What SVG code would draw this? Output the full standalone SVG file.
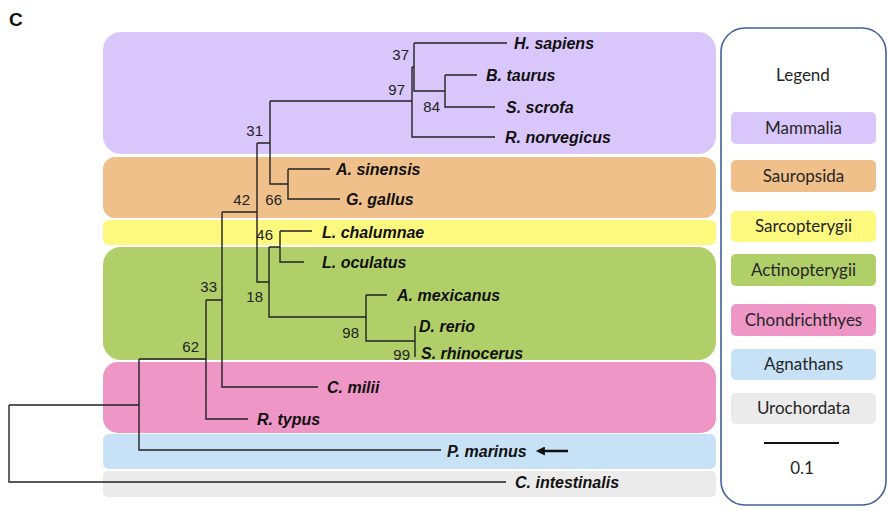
<svg xmlns="http://www.w3.org/2000/svg" width="889" height="511" viewBox="0 0 889 511">
<style>
.tip{font-family:"Liberation Sans",Arial,sans-serif;font-weight:bold;font-style:italic;font-size:16px;fill:#111}
.bs{font-family:"Liberation Sans",Arial,sans-serif;font-size:15px;fill:#222;text-anchor:end}
.lg{font-family:Lato,"Liberation Sans",sans-serif;font-size:17px;fill:#262626;text-anchor:middle}
.br{fill:none;stroke:#222;stroke-width:1.4}
</style>
<defs>
<marker id="ah" viewBox="0 0 10 10" refX="1" refY="5" markerWidth="4" markerHeight="3.6" orient="auto-start-reverse">
<path d="M0,0 L10,5 L0,10 z" fill="#111"/>
</marker>
</defs>
<rect width="889" height="511" fill="#fff"/>
<text x="9" y="26" style="font-family:'Liberation Sans',Arial,sans-serif;font-weight:bold;font-size:19px;fill:#111">C</text>

<g id="bands">
<g id="band-mammalia"><rect x="103" y="32" width="613" height="122" rx="18" fill="#d9c7fb"/></g>
<g id="band-sauropsida"><rect x="103" y="157" width="613" height="61" rx="12" fill="#f0c08a"/></g>
<g id="band-sarcopterygii"><rect x="103" y="220" width="613" height="25" rx="6" fill="#fdf97e"/></g>
<g id="band-actinopterygii"><rect x="103" y="247" width="613" height="113" rx="18" fill="#b1cf68"/></g>
<g id="band-chondrichthyes"><rect x="103" y="362" width="613" height="71" rx="15" fill="#ee96c6"/></g>
<g id="band-agnathans"><rect x="103" y="434" width="613" height="35" rx="6" fill="#c7e1f6"/></g>
<g id="band-urochordata"><rect x="103" y="471" width="613" height="26" rx="5" fill="#ebebeb"/></g>
</g>

<g id="connectors">
<path class="br" d="M9,405 V482 H506 M9,405 H139 M139,359 V450 H441 M139,359 H206 M206,300 V419 H248 M206,300 H222 M222,212 V387 H318 M222,212 H257 M257,143 V282 H269 M257,143 H270 M270,101 V184 H288 M270,101 H412 M288,169 V199 H340 M288,169 H330 M412,67 V137 H495 M412,67 H414 M414,43 V91 H445 M414,43 H507 M445,75 V107 H495 M445,75 H477 M269,247 V317 H366 M269,247 H280 M280,231 V262 H304 M280,231 H312 M366,295 V341 H415 M366,295 H387 M415,326 V357"/>
<line x1="568" y1="451" x2="544" y2="451" stroke="#111" stroke-width="2.5" marker-end="url(#ah)"/>
</g>

<g id="bootstrap">
<text class="bs" x="409" y="60">37</text>
<text class="bs" x="405" y="95">97</text>
<text class="bs" x="440" y="112">84</text>
<text class="bs" x="263" y="136">31</text>
<text class="bs" x="250" y="205">42</text>
<text class="bs" x="282" y="205">66</text>
<text class="bs" x="273" y="240">46</text>
<text class="bs" x="263" y="302">18</text>
<text class="bs" x="359" y="338">98</text>
<text class="bs" x="410" y="360">99</text>
<text class="bs" x="217" y="292">33</text>
<text class="bs" x="199" y="352">62</text>
</g>

<g id="tip-hsapiens"><text class="tip" x="514" y="49">H. sapiens</text></g>
<g id="tip-btaurus"><text class="tip" x="486" y="81">B. taurus</text></g>
<g id="tip-sscrofa"><text class="tip" x="506" y="113">S. scrofa</text></g>
<g id="tip-rnorvegicus"><text class="tip" x="505" y="143">R. norvegicus</text></g>
<g id="tip-asinensis"><text class="tip" x="336" y="175">A. sinensis</text></g>
<g id="tip-ggallus"><text class="tip" x="346" y="205">G. gallus</text></g>
<g id="tip-lchalumnae"><text class="tip" x="322" y="238">L. chalumnae</text></g>
<g id="tip-loculatus"><text class="tip" x="322" y="268">L. oculatus</text></g>
<g id="tip-amexicanus"><text class="tip" x="397" y="301">A. mexicanus</text></g>
<g id="tip-drerio"><text class="tip" x="419" y="332">D. rerio</text></g>
<g id="tip-srhinocerus"><text class="tip" x="421" y="359">S. rhinocerus</text></g>
<g id="tip-cmilii"><text class="tip" x="327" y="393">C. milii</text></g>
<g id="tip-rtypus"><text class="tip" x="257" y="425">R. typus</text></g>
<g id="tip-pmarinus"><text class="tip" x="447" y="457">P. marinus</text></g>
<g id="tip-cintestinalis"><text class="tip" x="515" y="488">C. intestinalis</text></g>

<g id="legend">
<rect x="721" y="28" width="165" height="477" rx="24" fill="#fff" stroke="#42609a" stroke-width="1.6"/>
<text class="lg" x="803" y="81">Legend</text>
<g id="legend-mammalia"><rect x="731" y="112" width="145" height="32" rx="5" fill="#d9c7fb"/><text class="lg" x="803.5" y="134">Mammalia</text></g>
<g id="legend-sauropsida"><rect x="731" y="160" width="145" height="32" rx="5" fill="#f0c08a"/><text class="lg" x="803.5" y="182">Sauropsida</text></g>
<g id="legend-sarcopterygii"><rect x="731" y="211" width="145" height="31" rx="5" fill="#fdf97e"/><text class="lg" x="803.5" y="232">Sarcopterygii</text></g>
<g id="legend-actinopterygii"><rect x="731" y="254" width="145" height="32" rx="5" fill="#b1cf68"/><text class="lg" x="803.5" y="276">Actinopterygii</text></g>
<g id="legend-chondrichthyes"><rect x="731" y="304" width="145" height="32" rx="5" fill="#ee96c6"/><text class="lg" x="803.5" y="326">Chondrichthyes</text></g>
<g id="legend-agnathans"><rect x="731" y="349" width="145" height="31" rx="5" fill="#c7e1f6"/><text class="lg" x="803.5" y="370">Agnathans</text></g>
<g id="legend-urochordata"><rect x="731" y="393" width="145" height="31" rx="5" fill="#ebebeb"/><text class="lg" x="803.5" y="414">Urochordata</text></g>
<g id="scalebar"><line x1="764" y1="443" x2="839" y2="443" stroke="#111" stroke-width="2"/><text class="lg" x="802" y="474">0.1</text></g>
</g>
</svg>
